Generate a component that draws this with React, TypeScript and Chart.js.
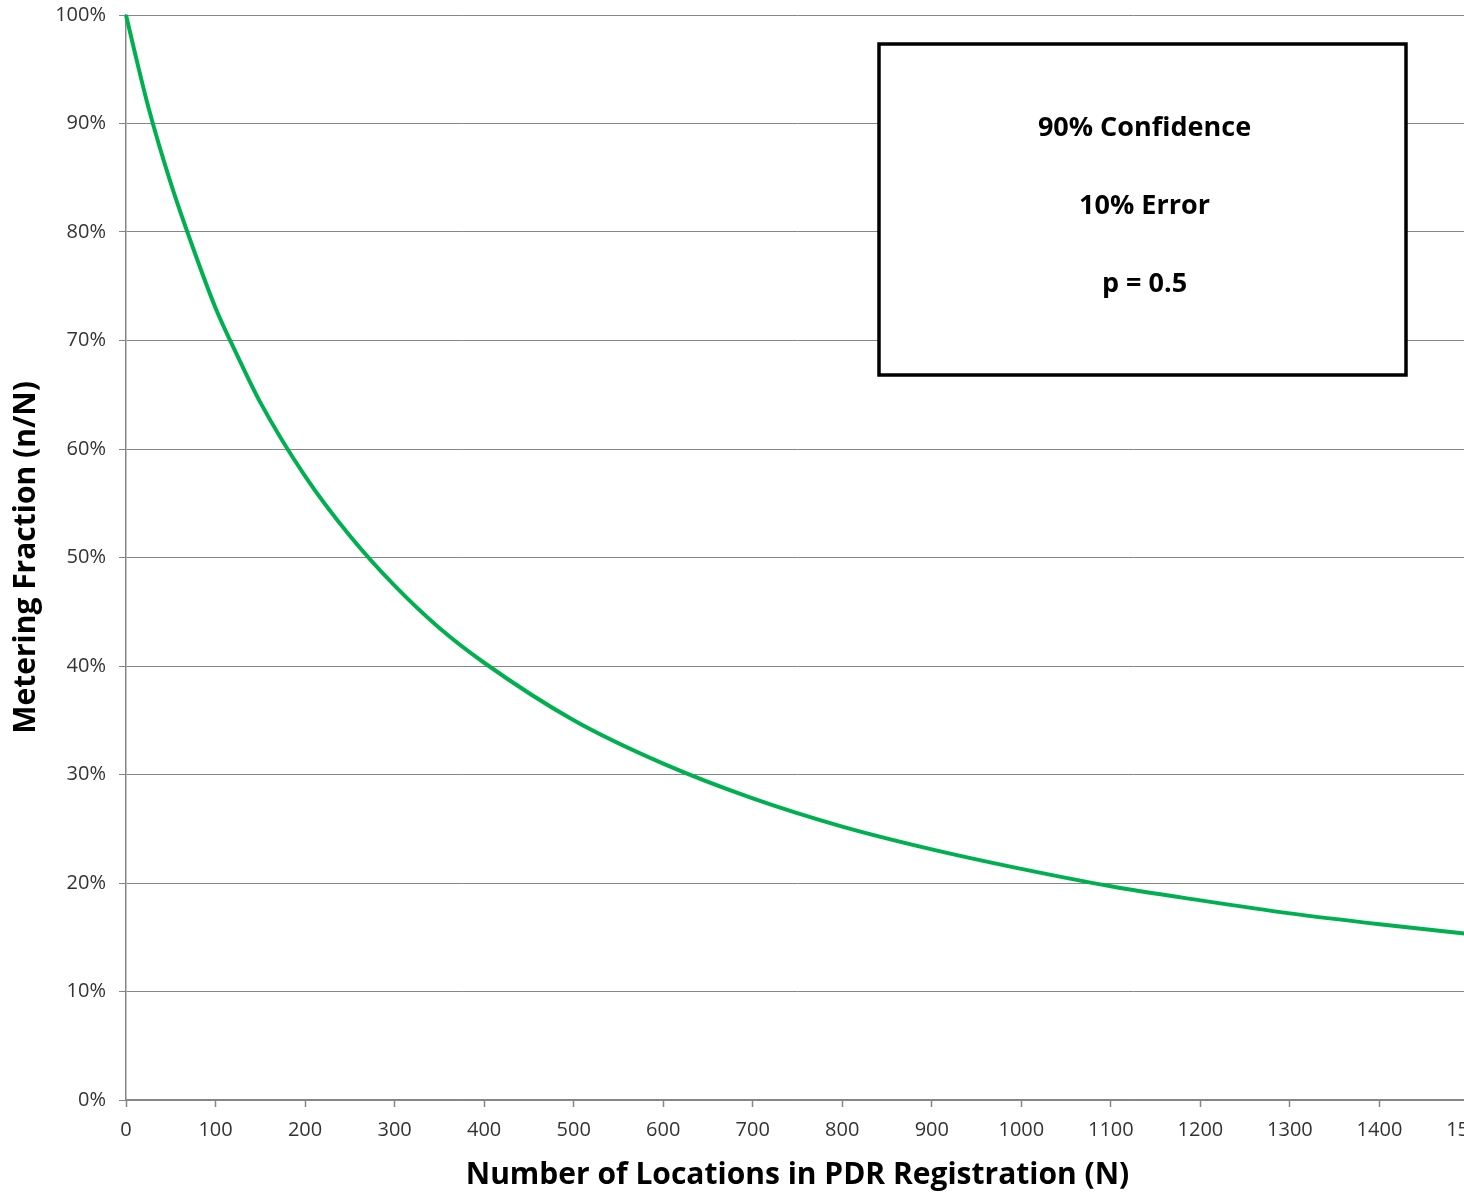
import React, { useEffect, useRef } from "react";
import { Chart, registerables } from "chart.js";

Chart.register(...registerables);

// Number of locations N (x) and metering fraction n/N (y)
const locations: number[] = [0, 10, 25, 50, 75, 100, 125, 150, 200, 250, 300, 350, 400, 500, 600, 700, 800, 900, 1000, 1100, 1200, 1300, 1400, 1500];
const fractions: number[] = [1.0, 0.965, 0.915, 0.845, 0.785, 0.73, 0.685, 0.643, 0.575, 0.52, 0.474, 0.435, 0.403, 0.35, 0.31, 0.278, 0.252, 0.231, 0.213, 0.197, 0.184, 0.172, 0.162, 0.153];

const annotationLines: string[] = ["90% Confidence", "10% Error", "p = 0.5"];
const xTitle = "Number of Locations in PDR Registration (N)";
const yTitle = "Metering Fraction (n/N)";

const FONT = "'Open Sans', sans-serif";

const boxPlugin = {
  id: "infoBox",
  afterDatasetsDraw(chart: any) {
    const ctx = chart.ctx;
    ctx.save();
    const x0 = 879, y0 = 44, x1 = 1406, y1 = 375;
    ctx.fillStyle = "#ffffff";
    ctx.fillRect(x0, y0, x1 - x0, y1 - y0);
    ctx.lineWidth = 3.5;
    ctx.strokeStyle = "#000000";
    ctx.strokeRect(x0, y0, x1 - x0, y1 - y0);
    ctx.fillStyle = "#000000";
    ctx.font = `bold 27px ${FONT}`;
    ctx.textAlign = "center";
    ctx.textBaseline = "middle";
    const cx = (x0 + x1) / 2 + 2;
    annotationLines.forEach((t, i) => {
      ctx.fillText(t, cx, 128 + i * 78);
    });
    ctx.restore();
  },
};

export default function App() {
  const ref = useRef<HTMLCanvasElement>(null);
  useEffect(() => {
    if (!ref.current) return;
    const chart = new Chart(ref.current, {
      type: "line",
      data: {
        datasets: [
          {
            data: locations.map((n, i) => ({ x: n, y: fractions[i] })),
            borderColor: "#00B050",
            borderWidth: 4,
            pointRadius: 0,
            cubicInterpolationMode: "monotone",
            fill: false,
            clip: false as any,
          },
        ],
      },
      options: {
        animation: false,
        responsive: false,
        devicePixelRatio: 1,
        layout: { padding: { left: 0, top: 15, right: 41, bottom: 0 } },
        plugins: { legend: { display: false }, tooltip: { enabled: false } },
        scales: {
          x: {
            type: "linear",
            min: 0,
            max: 1500,
            ticks: {
              stepSize: 100,
              color: "#333333",
              font: { family: FONT, size: 20 },
              padding: 11,
              maxRotation: 0,
              autoSkip: false,
              callback: (v: any) => String(v),
            },
            grid: { drawOnChartArea: false, drawTicks: true, tickLength: 7, tickColor: "#868686", tickWidth: 1.5 },
            border: { display: true, color: "#868686", width: 1.5 },
            title: {
              display: true,
              text: xTitle,
              color: "#000000",
              font: { family: FONT, size: 30, weight: "bold" },
              padding: { top: 0, bottom: 2 },
            },
            afterFit(scale: any) {
              scale.height = 95;
            },
          },
          y: {
            min: 0,
            max: 1,
            ticks: {
              stepSize: 0.1,
              color: "#333333",
              font: { family: FONT, size: 20 },
              padding: 13,
              callback: (v: any) => `${Math.round(Number(v) * 100)}%`,
            },
            grid: { color: "#868686", lineWidth: 1, drawTicks: true, tickLength: 7 },
            border: { display: true, color: "#868686", width: 1.5 },
            title: {
              display: true,
              text: yTitle,
              color: "#000000",
              font: { family: FONT, size: 30, weight: "bold" },
              padding: { top: 8, bottom: 0 },
            },
            afterFit(scale: any) {
              scale.width = 126;
              scale.paddingTop = 0;
              scale.paddingBottom = 0;
            },
          },
        },
      },
      plugins: [boxPlugin],
    });
    return () => chart.destroy();
  }, []);

  return (
    <div style={{ position: "fixed", left: 0, top: 0, width: 1464, height: 1195, overflow: "hidden", background: "#fff" }}>
      <canvas ref={ref} width={1510} height={1195} style={{ display: "block" }} />
    </div>
  );
}
